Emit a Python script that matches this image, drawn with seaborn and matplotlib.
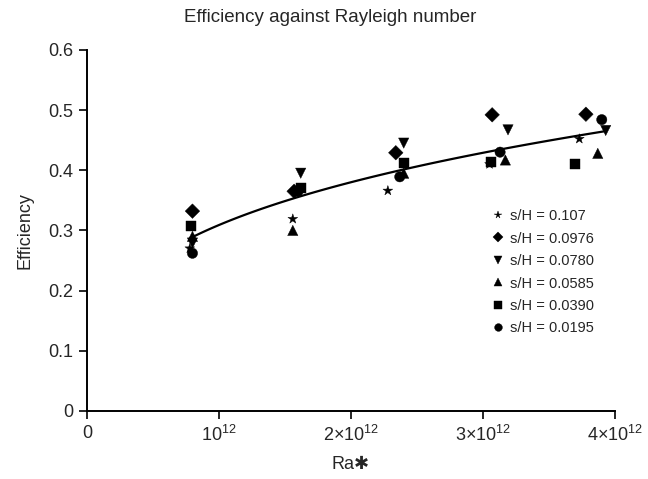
import numpy as np
import pandas as pd
import seaborn as sns
import matplotlib.pyplot as plt

# s/H series, Ra* in units of 1e12, efficiency
labels = ["s/H = 0.107", "s/H = 0.0976", "s/H = 0.0780",
          "s/H = 0.0585", "s/H = 0.0390", "s/H = 0.0195"]
markers = ["*", "D", "v", "^", "s", "o"]

ra_107 = [0.78, 1.56, 2.28, 3.05, 3.73]
eff_107 = [0.270, 0.319, 0.366, 0.410, 0.452]
ra_0976 = [0.80, 1.57, 2.34, 3.07, 3.78]
eff_0976 = [0.332, 0.365, 0.429, 0.492, 0.493]
ra_0780 = [0.80, 1.62, 2.40, 3.19, 3.93]
eff_0780 = [0.279, 0.395, 0.445, 0.467, 0.466]
ra_0585 = [0.80, 1.56, 2.40, 3.17, 3.87]
eff_0585 = [0.290, 0.300, 0.395, 0.417, 0.428]
ra_0390 = [0.79, 1.62, 2.40, 3.06, 3.70]
eff_0390 = [0.307, 0.370, 0.412, 0.414, 0.410]
ra_0195 = [0.80, 1.60, 2.37, 3.13, 3.90]
eff_0195 = [0.262, 0.365, 0.389, 0.430, 0.484]

ra_all = [ra_107, ra_0976, ra_0780, ra_0585, ra_0390, ra_0195]
eff_all = [eff_107, eff_0976, eff_0780, eff_0585, eff_0390, eff_0195]

rows = []
for lab, xs, ys in zip(labels, ra_all, eff_all):
    for x, y in zip(xs, ys):
        rows.append({"series": lab, "Ra": x * 1e12, "Efficiency": y})
df = pd.DataFrame(rows)

# power-law trend line fitted to all points
b, loga = np.polyfit(np.log(df["Ra"]), np.log(df["Efficiency"]), 1)
xfit = np.linspace(df["Ra"].min(), df["Ra"].max(), 100)
fit = pd.DataFrame({"Ra": xfit, "Efficiency": np.exp(loga) * xfit ** b})

sns.set_theme(style="ticks")
plt.rcParams["font.family"] = ["Liberation Sans", "DejaVu Sans"]
plt.rcParams["mathtext.fontset"] = "custom"
plt.rcParams["mathtext.rm"] = "Liberation Sans"
plt.rcParams["mathtext.it"] = "Liberation Sans"

fig = plt.figure(figsize=(6.48, 4.79), dpi=100)
ax = fig.add_axes([0.134, 0.142, 0.815, 0.754])

sns.lineplot(data=fit, x="Ra", y="Efficiency", color="black", linewidth=1.6, ax=ax)
sns.scatterplot(data=df, x="Ra", y="Efficiency", style="series", hue="series",
                palette=["black"] * 6, markers=dict(zip(labels, markers)),
                s=55, edgecolor="black", linewidth=0.3, ax=ax, legend=True)

ax.set_xlim(0, 4e12)
ax.set_ylim(0, 0.6)
ax.set_xticks([0, 1e12, 2e12, 3e12, 4e12])
ax.set_xticklabels(["0", r"$10^{12}$", r"$2{\times}10^{12}$",
                    r"$3{\times}10^{12}$", r"$4{\times}10^{12}$"])
ax.set_yticks([0, 0.1, 0.2, 0.3, 0.4, 0.5, 0.6])
ax.set_yticklabels(["0", "0.1", "0.2", "0.3", "0.4", "0.5", "0.6"])
ax.tick_params(labelsize=13, length=6, width=1.2, color="black", pad=4)
for sp in ["left", "bottom"]:
    ax.spines[sp].set_linewidth(1.4)
    ax.spines[sp].set_color("black")
sns.despine(ax=ax)

ax.set_xlabel("Ra\u2731", fontsize=13, labelpad=8)
ax.set_ylabel("Efficiency", fontsize=13, labelpad=10)
fig.text(330 / 648, 1 - 18 / 479, "Efficiency against Rayleigh number",
         fontsize=13.5, ha="center", va="center")

handles, labs = ax.get_legend_handles_labels()
ax.legend(handles, labs, frameon=False, fontsize=10.5, loc="upper left",
          bbox_to_anchor=(0.74, 0.575), handletextpad=-0.2, labelspacing=0.58,
          markerscale=0.75, borderaxespad=0)

fig.savefig("out.png", dpi=100)
